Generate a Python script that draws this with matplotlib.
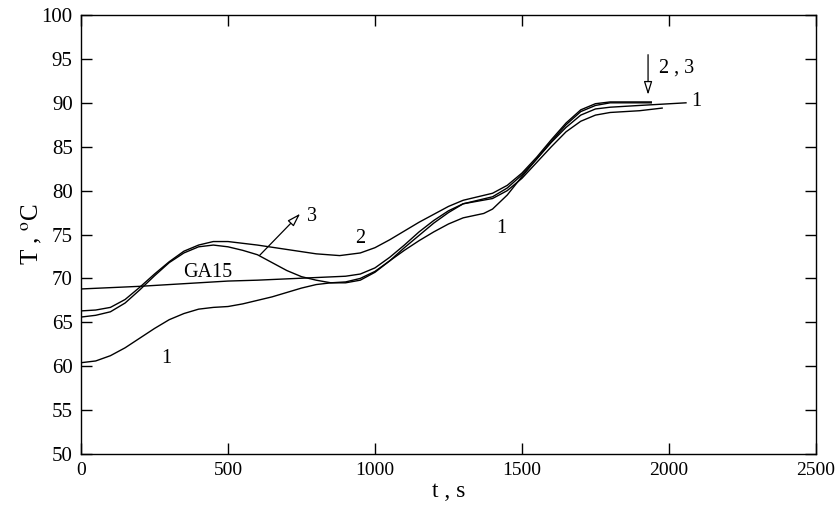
import matplotlib
matplotlib.use('Agg')
import matplotlib.pyplot as plt

plt.rcParams['font.family'] = ['Liberation Serif', 'DejaVu Serif']
plt.rcParams['mathtext.fontset'] = 'stix'

# curve 1
t1 = [0, 50, 100, 150, 200, 250, 300, 350, 400, 450, 500, 550, 600, 650, 700, 750, 800, 850, 900,
      950, 1000, 1050, 1100, 1150, 1200, 1250, 1300, 1370, 1400, 1450, 1500, 1550, 1600, 1650,
      1700, 1750, 1800, 1900, 2058]
T1 = [60.4, 60.6, 61.2, 62.1, 63.2, 64.3, 65.3, 66.0, 66.5, 66.7, 66.8, 67.1, 67.5, 67.9, 68.4, 68.9,
      69.3, 69.5, 69.6, 70.0, 70.8, 72.0, 73.2, 74.3, 75.3, 76.2, 76.9, 77.4, 77.9, 79.5, 81.6, 83.6,
      85.5, 87.2, 88.6, 89.3, 89.5, 89.7, 90.0]

# curve 2
t2 = [0, 50, 100, 150, 200, 250, 300, 350, 400, 450, 500, 600, 700, 800, 880, 950, 1000, 1050,
      1100, 1150, 1200, 1250, 1300, 1350, 1400, 1450, 1500, 1550, 1600, 1650, 1700, 1750, 1800, 1940]
T2 = [66.3, 66.4, 66.7, 67.6, 69.0, 70.5, 71.9, 73.1, 73.8, 74.2, 74.2, 73.8, 73.3, 72.8, 72.6,
      72.9, 73.5, 74.4, 75.4, 76.4, 77.3, 78.2, 78.9, 79.3, 79.7, 80.6, 82.0, 83.8, 85.8, 87.7,
      89.2, 89.9, 90.1, 90.1]

# curve 3
t3 = [0, 50, 100, 150, 200, 250, 300, 350, 400, 450, 500, 550, 600, 650, 700, 750, 800, 850, 900,
      950, 1000, 1050, 1100, 1150, 1200, 1250, 1300, 1350, 1400, 1450, 1500, 1550, 1600, 1650,
      1700, 1750, 1800, 1940]
T3 = [65.6, 65.8, 66.2, 67.2, 68.7, 70.3, 71.8, 72.9, 73.6, 73.8, 73.6, 73.2, 72.7, 71.8, 70.9,
      70.2, 69.8, 69.5, 69.5, 69.8, 70.7, 72.0, 73.5, 74.9, 76.3, 77.5, 78.5, 78.9, 79.3, 80.3,
      81.8, 83.6, 85.6, 87.5, 89.0, 89.7, 90.0, 90.0]

# GA15
tg = [0, 100, 200, 300, 400, 500, 600, 700, 800, 900, 950, 1000, 1050, 1100, 1150, 1200, 1250,
      1300, 1350, 1400, 1450, 1500, 1550, 1600, 1650, 1700, 1750, 1800, 1900, 1977]
Tg = [68.8, 68.95, 69.1, 69.3, 69.5, 69.7, 69.8, 69.95, 70.1, 70.25, 70.5, 71.2, 72.4, 73.8,
      75.3, 76.6, 77.7, 78.5, 78.8, 79.1, 80.0, 81.4, 83.2, 85.0, 86.7, 87.9, 88.6, 88.9, 89.1, 89.4]

fig = plt.figure(figsize=(8.37, 5.09), dpi=100)
ax = fig.add_axes([0.0968, 0.108, 0.878, 0.8625])

for t, T in [(t1, T1), (t2, T2), (t3, T3), (tg, Tg)]:
    ax.plot(t, T, color='black', lw=1.0)

ax.set_xlim(0, 2500)
ax.set_ylim(50, 100)
ax.set_xticks(range(0, 2501, 500))
ax.set_yticks(range(50, 101, 5))
ax.tick_params(direction='in', length=8, width=1, top=True, right=True, labelsize=14, pad=6)
ax.tick_params(axis='y', labelsize=15)
for s in ax.spines.values():
    s.set_linewidth(1.0)

ax.set_xlabel('t , s', fontsize=17, labelpad=1)
ax.set_ylabel('T , $^{\\rm o}$C', fontsize=18, labelpad=-2)

fs = 14.5
ax.text(431, 70.7, 'GA15', fontsize=fs, ha='center', va='center')
ax.text(289, 60.9, '1', fontsize=fs, ha='center', va='center')
ax.text(948, 74.6, '2', fontsize=fs, ha='center', va='center')
ax.text(1430, 75.7, '1', fontsize=fs, ha='center', va='center')
ax.text(2092, 90.2, '1', fontsize=fs, ha='center', va='center')
ax.text(785, 77.0, '3', fontsize=fs, ha='center', va='center')
ax.text(1967, 94.0, '2 , 3', fontsize=fs, ha='left', va='center')

ax.annotate('', xy=(752, 77.6), xytext=(601, 72.4),
            arrowprops=dict(arrowstyle='-|>,head_length=0.8,head_width=0.25',
                            fc='white', ec='black', lw=0.9))
ax.annotate('', xy=(1929, 90.6), xytext=(1929, 95.8),
            arrowprops=dict(arrowstyle='-|>,head_length=0.8,head_width=0.25',
                            fc='white', ec='black', lw=0.9))

fig.savefig('out.png', dpi=100)
